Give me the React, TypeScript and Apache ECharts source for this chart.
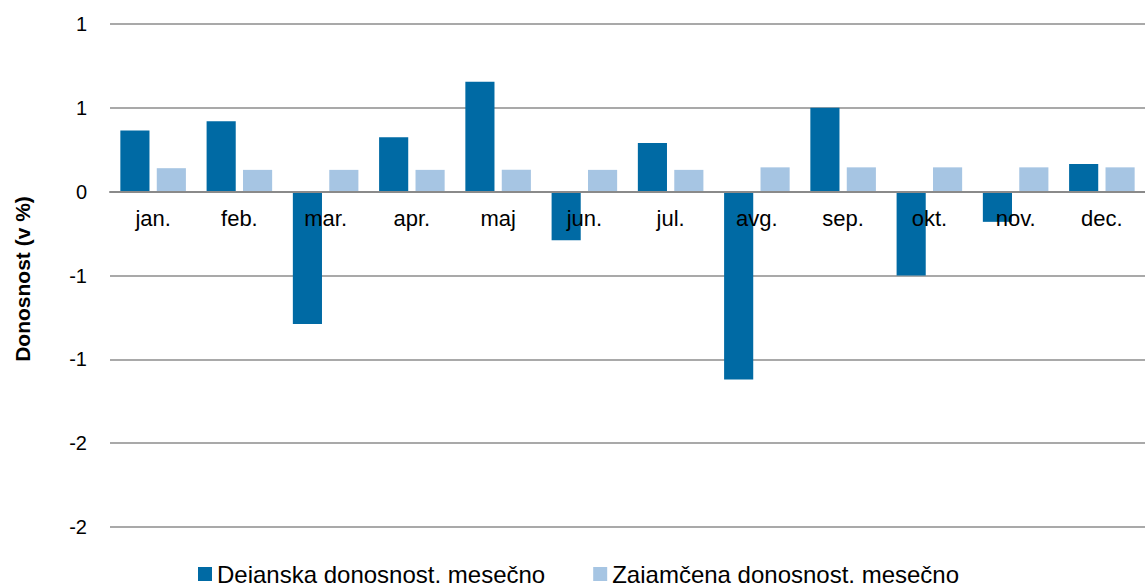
import React, { useEffect, useRef } from "react";
import * as echarts from "echarts";

const months = ["jan.", "feb.", "mar.", "apr.", "maj", "jun.", "jul.", "avg.", "sep.", "okt.", "nov.", "dec."];
const dejanska = [0.365, 0.42, -0.79, 0.325, 0.655, -0.29, 0.29, -1.12, 0.5, -0.5, -0.18, 0.165];
const zajamcena = [0.14, 0.13, 0.13, 0.13, 0.13, 0.13, 0.13, 0.145, 0.145, 0.145, 0.145, 0.145];
const seriesNames = ["Dejanska donosnost, mesečno", "Zajamčena donosnost, mesečno"];
const yAxisTitle = "Donosnost (v %)";
const yMin = -2;
const yMax = 1;
const yStep = 0.5;

const FONT = "'Liberation Sans', Arial, sans-serif";

const GRID_TOP = 24;
const GRID_BOTTOM = 56;
const HEIGHT = 583;

export default function App() {
  const ref = useRef<HTMLDivElement>(null);
  useEffect(() => {
    if (!ref.current) return;
    const chart = echarts.init(ref.current, undefined, { renderer: "svg" });
    const plotH = HEIGHT - GRID_TOP - GRID_BOTTOM;
    // distance from bottom of plot to the zero line (layout offset for the category axis)
    const zeroOffset = (plotH * (0 - yMin)) / (yMax - yMin);
    chart.setOption({
      animation: false,
      backgroundColor: "#ffffff",
      textStyle: { fontFamily: FONT },
      grid: { left: 110, right: 0, top: GRID_TOP, bottom: GRID_BOTTOM, containLabel: false },
      legend: {
        left: 193,
        top: 557,
        itemWidth: 14,
        itemHeight: 14,
        itemGap: 48,
        icon: "rect",
        textStyle: { fontSize: 24, color: "#000", fontFamily: FONT },
        data: seriesNames,
      },
      graphic: [
        {
          type: "text",
          x: 22,
          y: 279,
          rotation: Math.PI / 2,
          style: {
            text: yAxisTitle,
            fontSize: 21,
            fontWeight: "bold",
            fontFamily: FONT,
            fill: "#000",
            align: "center",
            verticalAlign: "middle",
          },
        },
      ],
      xAxis: {
        type: "category",
        data: months,
        z: 5,
        offset: -zeroOffset,
        axisLine: { onZero: false, lineStyle: { color: "#8a8a8a", width: 2 } },
        axisTick: { show: false },
        axisLabel: { fontSize: 22, color: "#000", margin: 16, fontFamily: FONT },
      },
      yAxis: {
        type: "value",
        min: yMin,
        max: yMax,
        interval: yStep,
        axisLine: { show: false },
        axisTick: { show: false },
        axisLabel: {
          fontSize: 20,
          color: "#000",
          margin: 23,
          fontFamily: FONT,
          formatter: (v: number) => {
            const r = Math.sign(v) * Math.round(Math.abs(v));
            return r === 0 ? "0" : String(r);
          },
        },
        splitLine: { lineStyle: { color: "#8c8c8c", width: 1.5 } },
      },
      series: [
        {
          name: seriesNames[0],
          type: "bar",
          data: dejanska,
          barGap: "25%",
          barCategoryGap: "24%",
          itemStyle: { color: "#006AA4" },
        },
        {
          name: seriesNames[1],
          type: "bar",
          data: zajamcena,
          barGap: "25%",
          barCategoryGap: "24%",
          itemStyle: { color: "#A6C5E3" },
        },
      ],
    });
    return () => chart.dispose();
  }, []);
  return (
    <div
      ref={ref}
      style={{ position: "absolute", left: 0, top: 0, width: 1145, height: 583 }}
    />
  );
}
